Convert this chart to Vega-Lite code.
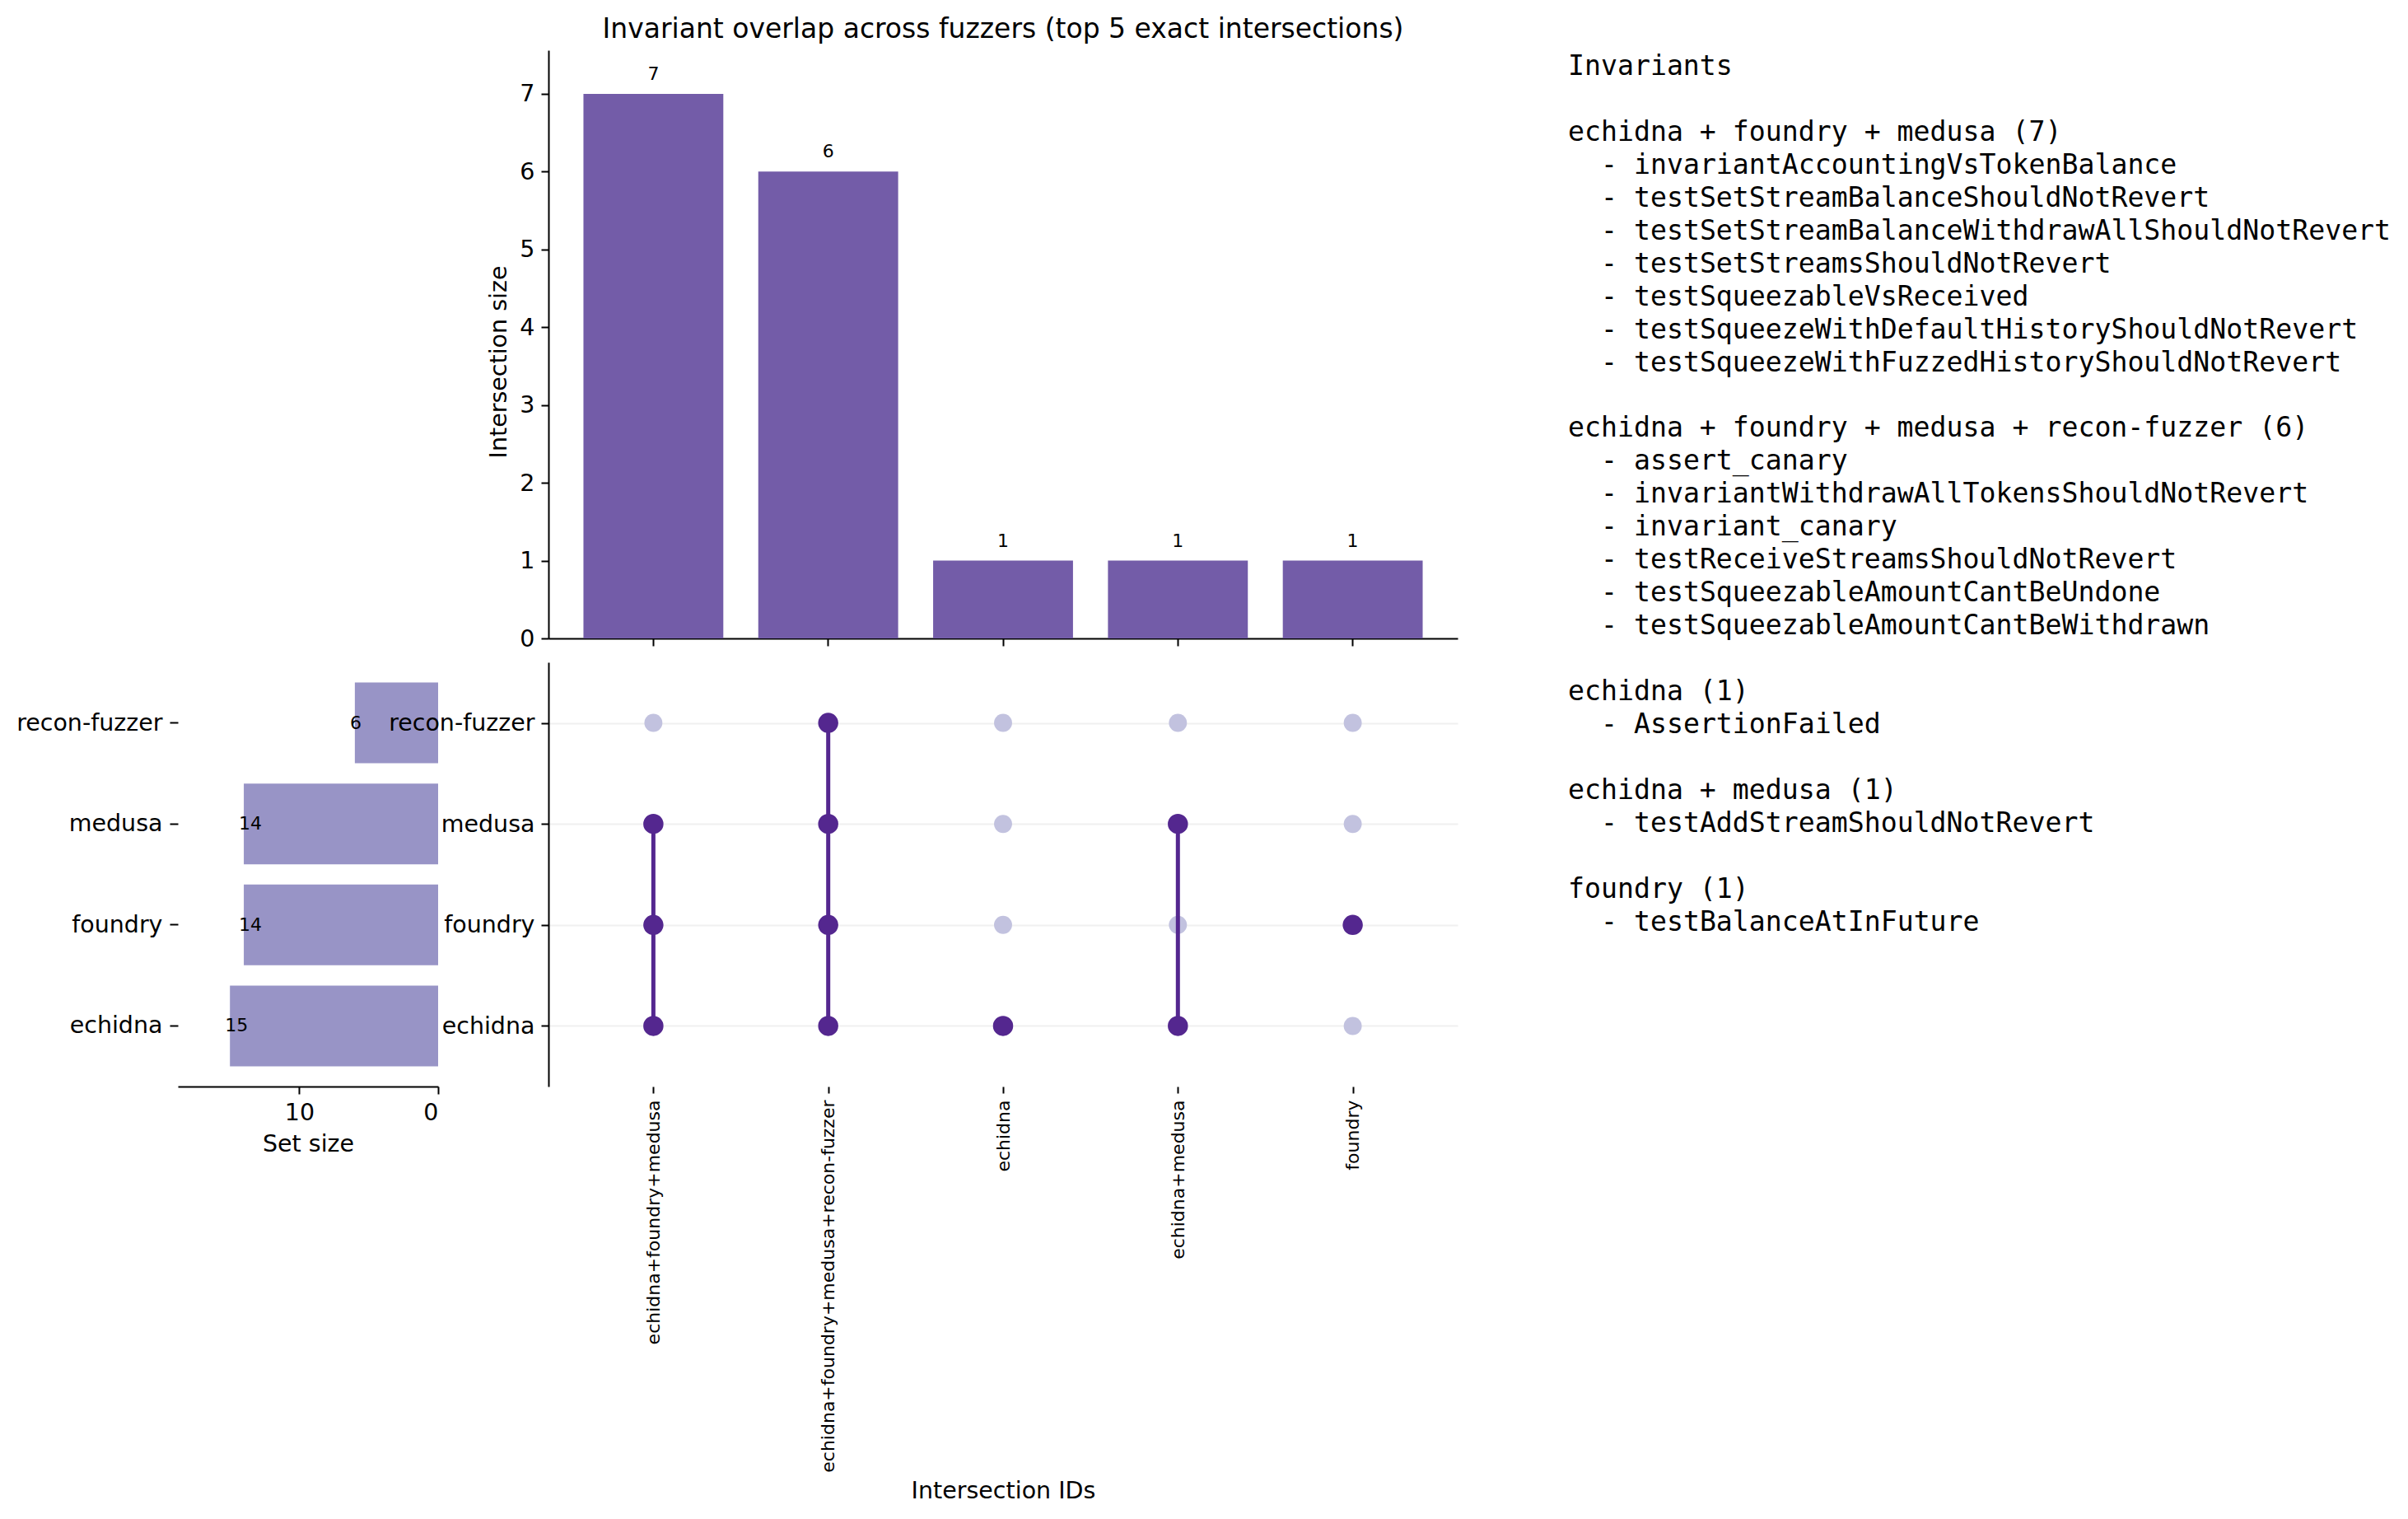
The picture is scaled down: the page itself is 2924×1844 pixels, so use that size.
{
  "$schema": "https://vega.github.io/schema/vega-lite/v6.json",
  "background": "white",
  "padding": {"left": 19, "top": 20, "right": 10, "bottom": 10},
  "bounds": "flush",
  "columns": 3,
  "spacing": {"row": 29, "column": 134},
  "datasets": {
    "inter": [
      {"id": "echidna+foundry+medusa", "size": 7},
      {"id": "echidna+foundry+medusa+recon-fuzzer", "size": 6},
      {"id": "echidna", "size": 1},
      {"id": "echidna+medusa", "size": 1},
      {"id": "foundry", "size": 1}
    ],
    "sets": [
      {"set": "recon-fuzzer", "size": 6},
      {"set": "medusa", "size": 14},
      {"set": "foundry", "size": 14},
      {"set": "echidna", "size": 15}
    ],
    "cells": [
      {"id": "echidna+foundry+medusa", "set": "recon-fuzzer", "active": false},
      {"id": "echidna+foundry+medusa", "set": "medusa", "active": true},
      {"id": "echidna+foundry+medusa", "set": "foundry", "active": true},
      {"id": "echidna+foundry+medusa", "set": "echidna", "active": true},
      {"id": "echidna+foundry+medusa+recon-fuzzer", "set": "recon-fuzzer", "active": true},
      {"id": "echidna+foundry+medusa+recon-fuzzer", "set": "medusa", "active": true},
      {"id": "echidna+foundry+medusa+recon-fuzzer", "set": "foundry", "active": true},
      {"id": "echidna+foundry+medusa+recon-fuzzer", "set": "echidna", "active": true},
      {"id": "echidna", "set": "recon-fuzzer", "active": false},
      {"id": "echidna", "set": "medusa", "active": false},
      {"id": "echidna", "set": "foundry", "active": false},
      {"id": "echidna", "set": "echidna", "active": true},
      {"id": "echidna+medusa", "set": "recon-fuzzer", "active": false},
      {"id": "echidna+medusa", "set": "medusa", "active": true},
      {"id": "echidna+medusa", "set": "foundry", "active": false},
      {"id": "echidna+medusa", "set": "echidna", "active": true},
      {"id": "foundry", "set": "recon-fuzzer", "active": false},
      {"id": "foundry", "set": "medusa", "active": false},
      {"id": "foundry", "set": "foundry", "active": true},
      {"id": "foundry", "set": "echidna", "active": false}
    ],
    "lines": [
      {"i": 0, "kind": "head", "t": "Invariants"},
      {"i": 2, "kind": "head", "t": "echidna + foundry + medusa (7)"},
      {"i": 3, "kind": "item", "t": "- invariantAccountingVsTokenBalance"},
      {"i": 4, "kind": "item", "t": "- testSetStreamBalanceShouldNotRevert"},
      {"i": 5, "kind": "item", "t": "- testSetStreamBalanceWithdrawAllShouldNotRevert"},
      {"i": 6, "kind": "item", "t": "- testSetStreamsShouldNotRevert"},
      {"i": 7, "kind": "item", "t": "- testSqueezableVsReceived"},
      {"i": 8, "kind": "item", "t": "- testSqueezeWithDefaultHistoryShouldNotRevert"},
      {"i": 9, "kind": "item", "t": "- testSqueezeWithFuzzedHistoryShouldNotRevert"},
      {"i": 11, "kind": "head", "t": "echidna + foundry + medusa + recon-fuzzer (6)"},
      {"i": 12, "kind": "item", "t": "- assert_canary"},
      {"i": 13, "kind": "item", "t": "- invariantWithdrawAllTokensShouldNotRevert"},
      {"i": 14, "kind": "item", "t": "- invariant_canary"},
      {"i": 15, "kind": "item", "t": "- testReceiveStreamsShouldNotRevert"},
      {"i": 16, "kind": "item", "t": "- testSqueezableAmountCantBeUndone"},
      {"i": 17, "kind": "item", "t": "- testSqueezableAmountCantBeWithdrawn"},
      {"i": 19, "kind": "head", "t": "echidna (1)"},
      {"i": 20, "kind": "item", "t": "- AssertionFailed"},
      {"i": 22, "kind": "head", "t": "echidna + medusa (1)"},
      {"i": 23, "kind": "item", "t": "- testAddStreamShouldNotRevert"},
      {"i": 25, "kind": "head", "t": "foundry (1)"},
      {"i": 26, "kind": "item", "t": "- testBalanceAtInFuture"}
    ]
  },
  "concat": [
    {
      "width": 316,
      "height": 714,
      "data": {"values": [{}]},
      "mark": {"type": "point", "opacity": 0},
      "encoding": {}
    },
    {
      "width": 1104,
      "height": 714,
      "title": {"text": "Invariant overlap across fuzzers (top 5 exact intersections)", "offset": 8, "anchor": "middle"},
      "data": {"name": "inter"},
      "encoding": {
        "x": {"field": "id", "type": "nominal", "sort": null,
              "scale": {"type": "band", "paddingInner": 0.2, "paddingOuter": 0.2},
              "axis": {"labels": false, "title": null, "ticks": true, "domain": true}},
        "y": {"field": "size", "type": "quantitative",
              "scale": {"domain": [0, 7.56], "nice": false},
              "axis": {"values": [0, 1, 2, 3, 4, 5, 6, 7], "title": "Intersection size", "titlePadding": 10, "titleY": 378}}
      },
      "layer": [
        {"mark": {"type": "bar", "color": "#735ca8"}},
        {"mark": {"type": "text", "baseline": "bottom", "dy": -12, "fontSize": 22},
         "encoding": {"text": {"field": "size", "type": "quantitative"}}}
      ]
    },
    {
      "width": 1000,
      "height": 714,
      "data": {"name": "lines"},
      "encoding": {
        "x": {"value": 0},
        "y": {"field": "i", "type": "quantitative", "scale": {"domain": [-0.5, 17.372], "reverse": true, "nice": false, "zero": false}, "axis": null},
        "text": {"field": "t", "type": "nominal"}
      },
      "layer": [
        {"transform": [{"filter": "datum.kind === 'head'"}],
         "mark": {"type": "text", "font": "DejaVu Sans Mono", "fontSize": 33.2, "align": "left", "baseline": "middle"}},
        {"transform": [{"filter": "datum.kind === 'item'"}],
         "mark": {"type": "text", "font": "DejaVu Sans Mono", "fontSize": 33.2, "align": "left", "baseline": "middle", "dx": 40}}
      ]
    },
    {
      "width": 316,
      "height": 515,
      "data": {"name": "sets"},
      "encoding": {
        "y": {"field": "set", "type": "nominal", "sort": ["recon-fuzzer", "medusa", "foundry", "echidna"],
              "scale": {"type": "band", "paddingInner": 0.2, "paddingOuter": 0.2},
              "axis": {"title": null, "domain": false, "ticks": true, "tickSize": 10, "labelPadding": 9}}
      },
      "layer": [
        {"mark": {"type": "bar", "color": "#9894c6"},
         "encoding": {"x": {"field": "size", "type": "quantitative",
                            "scale": {"domain": [0, 18.75], "reverse": true, "nice": false},
                            "axis": {"values": [0, 10], "title": "Set size", "titlePadding": 10}}}},
        {"mark": {"type": "text", "fontSize": 22, "align": "left", "baseline": "middle", "dx": -6},
         "encoding": {"x": {"field": "size", "type": "quantitative"}, "text": {"field": "size", "type": "quantitative"}}},
        {"mark": {"type": "rule", "color": "black", "strokeWidth": 2},
         "encoding": {"x": {"datum": 0}}}
      ]
    },
    {
      "width": 1104,
      "height": 515,
      "data": {"name": "cells"},
      "encoding": {
        "x": {"field": "id", "type": "nominal",
              "sort": ["echidna+foundry+medusa", "echidna+foundry+medusa+recon-fuzzer", "echidna", "echidna+medusa", "foundry"],
              "scale": {"type": "point", "padding": 0.6},
              "axis": {"labelAngle": -90, "labelFontSize": 22, "title": "Intersection IDs", "domain": false, "ticks": true, "tickSize": 8, "labelPadding": 8, "titleY": 476}},
        "y": {"field": "set", "type": "nominal", "sort": ["recon-fuzzer", "medusa", "foundry", "echidna"],
              "scale": {"type": "point", "padding": 0.6},
              "axis": {"title": null, "grid": true, "gridColor": "#f0f0f0", "gridWidth": 2, "domain": true, "ticks": true}}
      },
      "layer": [
        {"transform": [{"filter": "!datum.active"}],
         "mark": {"type": "circle", "color": "#c2c2df", "size": 480, "opacity": 1}},
        {"transform": [{"filter": "datum.active"}],
         "mark": {"type": "line", "color": "#54278f", "strokeWidth": 5},
         "encoding": {"detail": {"field": "id", "type": "nominal"}}},
        {"transform": [{"filter": "datum.active"}],
         "mark": {"type": "circle", "color": "#54278f", "size": 600, "opacity": 1}}
      ]
    }
  ],
  "config": {
    "font": "DejaVu Sans",
    "view": {"stroke": null},
    "title": {"font": "DejaVu Sans", "fontSize": 33, "fontWeight": "normal", "color": "#000"},
    "axis": {
      "labelFont": "DejaVu Sans", "titleFont": "DejaVu Sans",
      "labelFontSize": 28.5, "titleFontSize": 28.5, "titleFontWeight": "normal",
      "labelColor": "#000", "titleColor": "#000", "tickColor": "#000", "domainColor": "#000",
      "tickWidth": 2, "domainWidth": 2, "tickSize": 9, "labelPadding": 8,
      "grid": false, "labelLimit": 1000
    },
    "text": {"font": "DejaVu Sans", "color": "#000"}
  }
}
